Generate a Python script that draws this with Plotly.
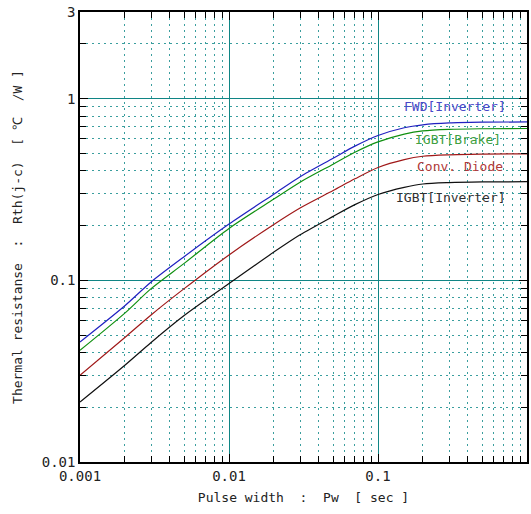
import plotly.graph_objects as go

pulse_width = [0.001, 0.002, 0.003, 0.005, 0.01, 0.02, 0.03, 0.05, 0.07, 0.1, 0.15, 0.2, 0.3, 0.5, 1.0]
fwd_inverter = [0.0458, 0.0725, 0.098, 0.135, 0.204, 0.298, 0.372, 0.470, 0.548, 0.627, 0.692, 0.718, 0.735, 0.742, 0.745]
igbt_brake = [0.0412, 0.066, 0.090, 0.124, 0.193, 0.280, 0.347, 0.436, 0.507, 0.578, 0.638, 0.665, 0.678, 0.683, 0.685]
conv_diode = [0.030, 0.0485, 0.0645, 0.090, 0.138, 0.203, 0.250, 0.312, 0.362, 0.418, 0.462, 0.482, 0.491, 0.495, 0.497]
igbt_inverter = [0.0214, 0.0341, 0.0455, 0.064, 0.096, 0.143, 0.178, 0.225, 0.261, 0.297, 0.325, 0.339, 0.345, 0.348, 0.349]

series_names = ["FWD[Inverter]", "IGBT[Brake]", "Conv. Diode", "IGBT[Inverter]"]
series_values = [fwd_inverter, igbt_brake, conv_diode, igbt_inverter]
line_colors = ["#2020c0", "#109010", "#a01818", "#101010"]
label_colors = ["#4848c8", "#40a040", "#b03838", "#303030"]
label_y = [0.789, 0.716, 0.656, 0.587]
label_x = [0.957, 0.946, 0.951, 0.957]

x_tickvals = [0.001, 0.01, 0.1, 1]
x_ticktext = ["0.001", "0.01", "0.1", "1"]
y_tickvals = [0.01, 0.1, 1, 3]
y_ticktext = ["0.01", "0.1", "1", "3"]

FONT = "DejaVu Sans Mono, monospace"
TEAL = "#108585"
TEAL_LIGHT = "#3a9e9e"

fig = go.Figure()
for name, vals, col in zip(series_names, series_values, line_colors):
    fig.add_trace(go.Scatter(x=pulse_width, y=vals, mode="lines", name=name,
                             line=dict(color=col, width=1.2, shape="spline", smoothing=0.8),
                             showlegend=False, hoverinfo="skip"))

for name, col, ly, lx in zip(series_names, label_colors, label_y, label_x):
    fig.add_annotation(text=name, x=lx, y=ly, xref="paper", yref="paper",
                       xanchor="right", yanchor="middle", showarrow=False,
                       font=dict(family=FONT, size=13, color=col))

axis_common = dict(
    type="log", showline=True, linecolor="black", linewidth=1.5, mirror="allticks",
    ticks="inside", ticklen=8, tickcolor="black", tickwidth=1,
    showgrid=True, gridcolor=TEAL, gridwidth=1.3,
    tickfont=dict(family=FONT, size=14, color="#222"),
    zeroline=False, automargin=False,
    minor=dict(ticks="inside", ticklen=6, tickcolor="black", dtick="D1",
               showgrid=True, gridcolor=TEAL_LIGHT, griddash="2px,4px", gridwidth=1),
)

fig.update_xaxes(range=[-3, 0], tickvals=x_tickvals, ticktext=x_ticktext,
                 title=dict(text="Pulse width  :  Pw  [ sec ]",
                            font=dict(family=FONT, size=13, color="#222"), standoff=10),
                 **axis_common)
fig.update_yaxes(range=[-2, 0.4771], tickvals=y_tickvals, ticktext=y_ticktext,
                 title=dict(text="Thermal resistanse  :  Rth(j-c)  [ ℃  /W ]",
                            font=dict(family=FONT, size=13, color="#222"), standoff=16),
                 **axis_common)

fig.update_layout(width=531, height=514, margin=dict(l=80, r=4, t=12, b=52),
                  plot_bgcolor="white", paper_bgcolor="white")

fig.write_html("out.html", config={"displayModeBar": False},
               post_script="document.body.style.margin='0';document.body.style.overflow='hidden';")
